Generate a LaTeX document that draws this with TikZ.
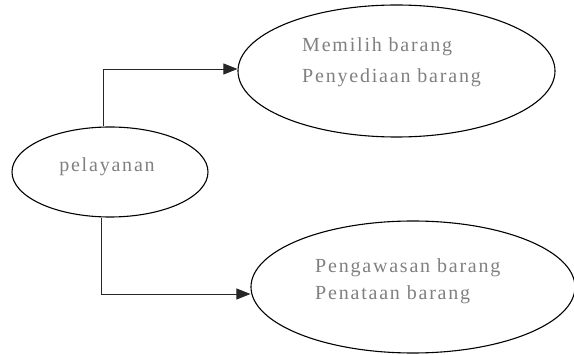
\documentclass[tikz,border=0pt]{standalone}
\usepackage{fontspec}
\setmainfont{Liberation Serif}[LetterSpace=9]
\usetikzlibrary{shapes.geometric,arrows.meta}
\begin{document}
\begin{tikzpicture}[x=1pt,y=-1pt,
  oval/.style={draw=black, line width=1.1pt, ellipse, inner sep=0pt},
  txt/.style={text=black!50, align=left, inner sep=0pt},
  conn/.style={draw=black!85, line width=0.8pt, -{Triangle[length=14pt,width=11pt]}}]
\useasboundingbox (0,0) rectangle (574,355);
\node[oval, minimum width=317pt, minimum height=132pt] (top) at (396.5,71) {};
\node[oval, minimum width=196pt, minimum height=90pt] (pel) at (110,172) {};
\node[oval, minimum width=324pt, minimum height=132pt] (bot) at (413,287) {};
\node[txt, anchor=west, font=\fontsize{20}{31}\selectfont] (ttop) at (302,62) {Memilih barang\\Penyediaan barang};
\node[txt, anchor=west, font=\fontsize{20}{27}\selectfont] (tbot) at (315,281) {Pengawasan barang\\Penataan barang};
\node[txt, font=\fontsize{20}{24}\selectfont] (tpel) at (107,167) {pelayanan};
\coordinate (up) at ([xshift=-7pt]pel.north);
\coordinate (dn) at ([xshift=-9pt]pel.south);
\draw[conn] (up) |- ([yshift=2pt]top.west);
\draw[conn] (dn) |- ([yshift=-7pt]bot.west);
\end{tikzpicture}
\end{document}
